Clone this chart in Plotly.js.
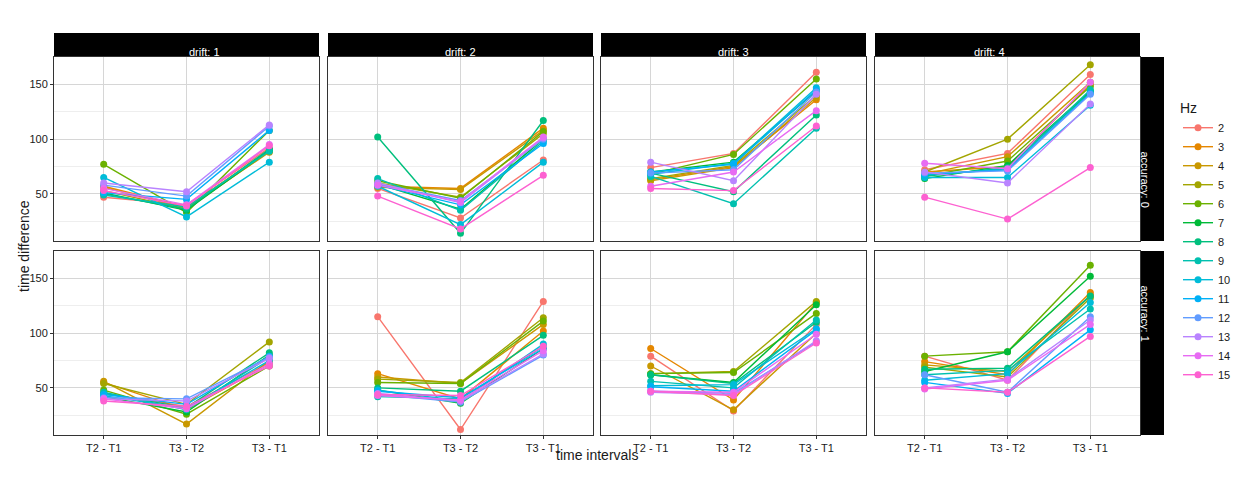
<!DOCTYPE html>
<html>
<head>
<script src="https://cdn.plot.ly/plotly-3.0.1.min.js"></script>
<style>body{margin:0}</style>
</head>
<body>
<div id="chart" style="width:1246px;height:481px"></div>
<script>
var intervals = ['T2 - T1', 'T3 - T2', 'T3 - T1'];
var hzLevels = ['2','3','4','5','6','7','8','9','10','11','12','13','14','15'];
var hzColors = ['#F8766D','#E58700','#C99800','#A3A500','#6BB100','#00BA38','#00BF7D',
                '#00C0AF','#00BCD8','#00B0F6','#619CFF','#B983FF','#E76BF3','#FD61D1'];
var driftLabels = ['drift: 1', 'drift: 2', 'drift: 3', 'drift: 4'];
var accuracyLabels = ['accuracy: 0', 'accuracy: 1'];

// one row per Hz level: [T2-T1, T3-T2, T3-T1]
var acc0drift1 = [[47,40,92],[57,38,90],[56,37,88],[53,36,89],[77,33,108],[51,35,90],[50,36,91],
                  [49,38,89],[65,29,79],[51,45,108],[58,48,112],[60,52,113],[55,40,95],[53,39,94]];
var acc0drift2 = [[55,28,81],[57,55,110],[56,54,108],[60,47,105],[62,46,107],[59,36,100],[102,14,117],
                  [64,35,98],[57,22,79],[58,40,96],[59,44,100],[60,42,101],[58,43,102],[48,18,67]];
var acc0drift3 = [[74,87,161],[63,75,136],[62,74,138],[64,76,140],[68,86,155],[70,79,144],[69,52,122],
                  [66,41,110],[68,78,147],[70,77,145],[69,72,143],[79,62,141],[57,70,126],[55,53,112]];
var acc0drift4 = [[72,87,159],[70,75,150],[68,84,152],[70,100,168],[66,80,148],[64,76,144],[66,74,143],
                  [67,73,145],[65,65,131],[68,72,142],[69,71,141],[70,60,132],[78,73,152],[47,27,74]];
var acc1drift1 = [[45,33,73],[55,30,72],[56,17,75],[54,35,92],[48,26,70],[42,28,80],[45,32,82],
                  [46,30,78],[43,31,75],[44,35,79],[41,40,78],[40,38,77],[40,31,72],[38,33,70]];
var acc1drift2 = [[115,12,129],[63,40,102],[60,54,108],[58,55,114],[55,54,111],[48,36,86],[50,47,98],
                  [42,40,88],[48,38,90],[47,41,86],[44,37,80],[45,38,81],[43,39,84],[44,43,88]];
var acc1drift3 = [[79,29,108],[86,39,128],[70,30,100],[63,65,129],[63,64,118],[62,55,126],[62,54,110],
                  [56,50,112],[52,53,104],[51,47,103],[47,45,92],[46,44,93],[47,46,99],[47,43,91]];
var acc1drift4 = [[79,57,135],[74,62,137],[71,65,134],[69,60,132],[79,83,162],[65,83,152],[67,68,134],
                  [62,66,122],[57,63,128],[55,45,103],[62,46,115],[50,58,112],[49,57,108],[50,46,97]];

var panels = [[acc0drift1, acc0drift2, acc0drift3, acc0drift4],
              [acc1drift1, acc1drift2, acc1drift3, acc1drift4]];

var W = 1246, H = 481;
var colPx = [[54,319],[328,593],[601,866],[875,1140]];
var rowPx = [[57,241],[251,435]];
function fx(p) { return p / W; }
function fy(p) { return 1 - p / H; }

var traces = [];
var layout = {
    width: W, height: H,
    margin: {l: 0, r: 0, t: 0, b: 0},
    paper_bgcolor: 'white', plot_bgcolor: 'white',
    font: {family: 'Liberation Sans, Arial, sans-serif', size: 11, color: '#1a1a1a'},
    showlegend: true,
    legend: {x: fx(1178), y: fy(95), xanchor: 'left', yanchor: 'top',
             title: {text: 'Hz', font: {size: 14}}, font: {size: 11},
             tracegroupgap: 0, bgcolor: 'rgba(0,0,0,0)'},
    shapes: [], annotations: []
};

for (let r = 0; r < 2; r++) {
    for (let c = 0; c < 4; c++) {
        var n = r * 4 + c + 1;
        var xa = 'xaxis' + (n == 1 ? '' : n), ya = 'yaxis' + (n == 1 ? '' : n);
        var xref = 'x' + (n == 1 ? '' : n), yref = 'y' + (n == 1 ? '' : n);
        layout[xa] = {
            domain: [fx(colPx[c][0]), fx(colPx[c][1])], anchor: yref,
            type: 'linear', range: [-0.6, 2.6], tickvals: [0,1,2],
            ticktext: intervals, showticklabels: r == 1,
            showgrid: true, gridcolor: '#d6d6d6', gridwidth: 1, zeroline: false,
            ticks: r == 1 ? 'outside' : '', ticklen: 3, tickcolor: '#333',
            showline: true, mirror: true, linecolor: '#333', linewidth: 1,
            tickfont: {size: 11, color: '#1a1a1a'}
        };
        layout[ya] = {
            domain: [fy(rowPx[r][1]), fy(rowPx[r][0])], anchor: xref,
            range: [7, 175], tickvals: [50,100,150], showticklabels: c == 0,
            showgrid: true, gridcolor: '#d6d6d6', gridwidth: 1, zeroline: false,
            minor: {tickvals: [25,75,125,175], showgrid: true, gridcolor: '#eeeeee', gridwidth: 1},
            ticks: c == 0 ? 'outside' : '', ticklen: 3, tickcolor: '#333',
            showline: true, mirror: true, linecolor: '#333', linewidth: 1,
            tickfont: {size: 11, color: '#1a1a1a'}
        };
        var data = panels[r][c];
        for (let h = 0; h < hzLevels.length; h++) {
            traces.push({
                x: [0,1,2], y: data[h], xaxis: xref, yaxis: yref,
                type: 'scatter', mode: 'lines+markers', name: hzLevels[h],
                legendgroup: hzLevels[h], showlegend: n == 1,
                line: {color: hzColors[h], width: 1.4},
                marker: {color: hzColors[h], size: 7}
            });
        }
        if (r == 0) {
            layout.shapes.push({type: 'rect', xref: 'paper', yref: 'paper',
                x0: fx(colPx[c][0]), x1: fx(colPx[c][1]), y0: fy(56), y1: fy(33),
                fillcolor: 'black', line: {width: 0}});
            layout.annotations.push({xref: 'paper', yref: 'paper',
                x: fx((colPx[c][0] + colPx[c][1]) / 2), y: fy(44.5), text: driftLabels[c],
                showarrow: false, font: {color: 'white', size: 11}});
        }
    }
    layout.shapes.push({type: 'rect', xref: 'paper', yref: 'paper',
        x0: fx(1141), x1: fx(1164), y0: fy(rowPx[r][1]), y1: fy(rowPx[r][0]),
        fillcolor: 'black', line: {width: 0}});
    layout.annotations.push({xref: 'paper', yref: 'paper',
        x: fx(1152.5), y: fy((rowPx[r][0] + rowPx[r][1]) / 2), text: accuracyLabels[r],
        textangle: 90, showarrow: false, font: {color: 'white', size: 11}});
}

layout.annotations.push({xref: 'paper', yref: 'paper', x: fx(597), y: fy(465),
    text: 'time intervals', showarrow: false, font: {size: 14}});
layout.annotations.push({xref: 'paper', yref: 'paper', x: fx(14), y: fy(246),
    text: 'time difference', textangle: -90, showarrow: false, font: {size: 14}});

Plotly.newPlot('chart', traces, layout, {displayModeBar: false});
</script>
</body>
</html>
